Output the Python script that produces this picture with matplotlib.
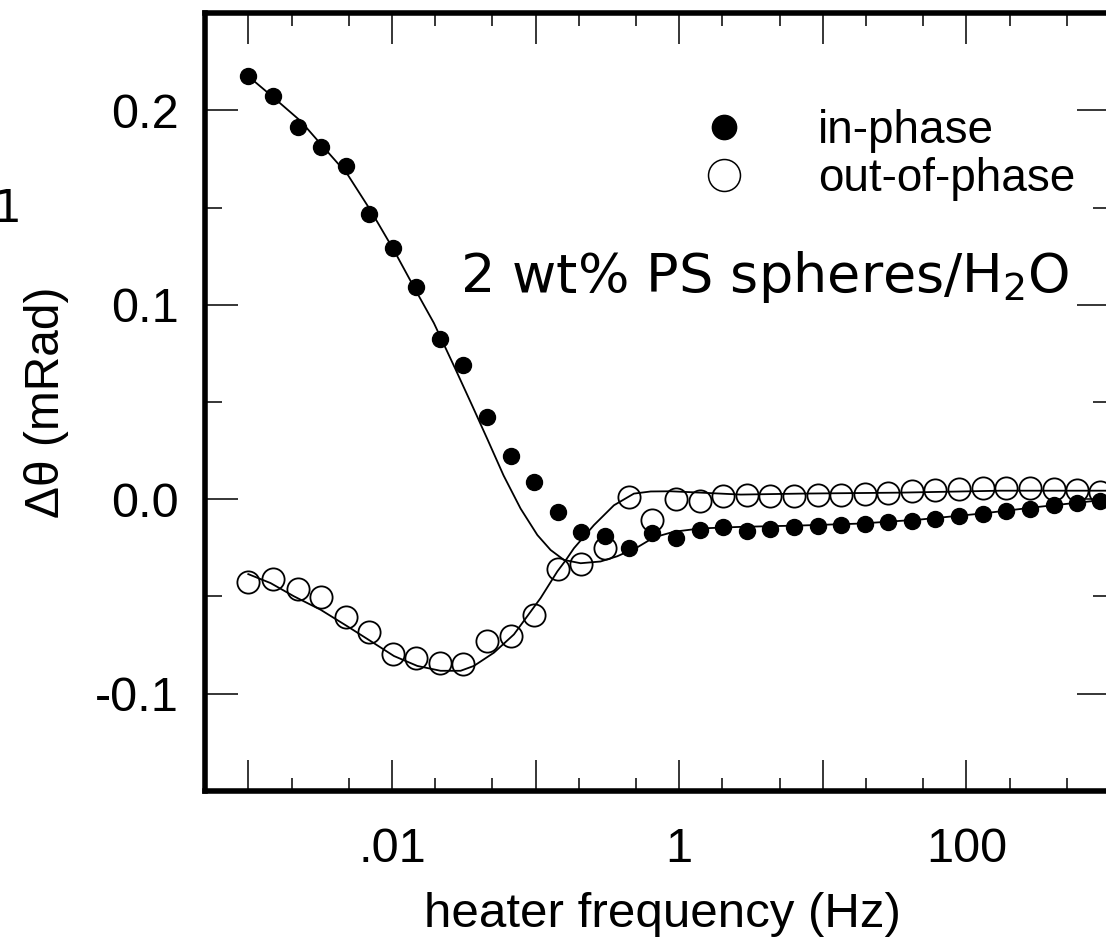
import matplotlib
matplotlib.use("Agg")
import matplotlib.pyplot as plt
from matplotlib.lines import Line2D
from matplotlib.ticker import FixedLocator, FixedFormatter, NullFormatter

# measured points (heater frequency in Hz, delta theta in mRad)
freq = [0.0010, 0.00149, 0.00222, 0.00321, 0.00476, 0.00694, 0.01016, 0.01475,
        0.0215, 0.0314, 0.0459, 0.0671, 0.0975, 0.143, 0.209, 0.304, 0.445,
        0.650, 0.946, 1.39, 2.02, 2.95, 4.29, 6.27, 9.21, 13.3, 19.6, 28.5,
        41.6, 60.4, 88.4, 129.8, 187.6, 275.9, 405.5, 586.4, 847.8]
in_phase = [0.2175, 0.2073, 0.1914, 0.1812, 0.1715, 0.1468, 0.1294, 0.1093,
            0.0826, 0.0688, 0.0421, 0.0221, 0.0091, -0.0065, -0.0167, -0.0188,
            -0.0249, -0.0176, -0.0201, -0.0159, -0.0145, -0.0162, -0.0155,
            -0.0142, -0.0136, -0.0133, -0.0128, -0.0116, -0.0113, -0.0099,
            -0.0087, -0.0074, -0.0062, -0.0048, -0.0031, -0.0017, -0.0011]
out_phase = [-0.0426, -0.0412, -0.0460, -0.0503, -0.0607, -0.0682, -0.0794,
             -0.0815, -0.0840, -0.0845, -0.0729, -0.0701, -0.0593, -0.0360,
             -0.0334, -0.0249, 0.0012, -0.0108, 0.0003, -0.0011, 0.0015, 0.0020,
             0.0017, 0.0017, 0.0020, 0.0024, 0.0029, 0.0034, 0.0040, 0.0045,
             0.0054, 0.0058, 0.0058, 0.0058, 0.0054, 0.0045, 0.0037]

# fitted model curves
fit_in_f = [0.0010, 0.001507, 0.002312, 0.00336, 0.004891, 0.007105, 0.01033,
            0.01503, 0.0196, 0.02778, 0.03631, 0.04616, 0.05993, 0.0787,
            0.103, 0.1274, 0.1577, 0.2061, 0.2839, 0.3712, 0.5117, 0.6681,
            0.9202, 1.412, 2.681, 7.014, 18.35, 48.05, 125.8, 329.0, 1000.0]
fit_in = [0.2175, 0.2064, 0.1945, 0.1808, 0.1672, 0.1485, 0.1280, 0.1059,
          0.0906, 0.0667, 0.0480, 0.0310, 0.0122, -0.0048, -0.0184, -0.0261,
          -0.0312, -0.0329, -0.0320, -0.0293, -0.0247, -0.0196, -0.0167,
          -0.0150, -0.0142, -0.0135, -0.0125, -0.0104, -0.0074, -0.0038, 0.0]
fit_out_f = [0.0010, 0.001429, 0.002079, 0.003187, 0.004891, 0.007105, 0.01033,
             0.01503, 0.02183, 0.03008, 0.03722, 0.05131, 0.07074, 0.1085,
             0.1419, 0.1622, 0.1851, 0.2551, 0.3516, 0.4844, 0.6337, 0.8727,
             1.412, 2.681, 7.014, 34.9, 173.4, 1000.0]
fit_out = [-0.0385, -0.0431, -0.0499, -0.0568, -0.0653, -0.0729, -0.0806,
           -0.0857, -0.0882, -0.0882, -0.0857, -0.0789, -0.0695, -0.0508,
           -0.0371, -0.0314, -0.0252, -0.0133, -0.0031, 0.0029, 0.0040, 0.0041,
           0.0034, 0.0024, 0.0029, 0.0034, 0.0044, 0.0044]

x_major = [1e-3, 1e-2, 1e-1, 1, 10, 100, 1000]
x_labels = ["", ".01", "", "1", "", "100", ""]
x_minor = [2e-3, 5e-3, 2e-2, 5e-2, 0.2, 0.5, 2, 5, 20, 50, 200, 500]
y_major = [-0.1, 0.0, 0.1, 0.2]
y_labels = ["-0.1", "0.0", "0.1", "0.2"]
y_minor = [-0.05, 0.05, 0.15]

helv = "Liberation Sans"

fig = plt.figure(figsize=(11.06, 9.43), dpi=100)
ax = fig.add_axes([0.1854, 0.1612, 0.8182, 0.825])

ax.plot(fit_in_f, fit_in, color="black", lw=1.3)
ax.plot(fit_out_f, fit_out, color="black", lw=1.3)
ax.plot(freq, out_phase, "o", ms=16, mfc="none", mec="black", mew=1.3)
ax.plot(freq, in_phase, "o", ms=11.5, color="black")

ax.set_xscale("log")
ax.set_xlim(5e-4, 1e3)
ax.set_ylim(-0.15, 0.25)

ax.xaxis.set_major_locator(FixedLocator(x_major))
ax.xaxis.set_major_formatter(FixedFormatter(x_labels))
ax.xaxis.set_minor_locator(FixedLocator(x_minor))
ax.xaxis.set_minor_formatter(NullFormatter())
ax.yaxis.set_major_locator(FixedLocator(y_major))
ax.yaxis.set_major_formatter(FixedFormatter(y_labels))
ax.yaxis.set_minor_locator(FixedLocator(y_minor))

for s in ax.spines.values():
    s.set_linewidth(4)
ax.tick_params(which="both", direction="in", top=True, right=True, width=1.1)
ax.tick_params(axis="x", which="major", length=22, pad=26)
ax.tick_params(axis="x", which="minor", length=9.5)
ax.tick_params(axis="y", which="major", length=24, pad=19)
ax.tick_params(axis="y", which="minor", length=12)
for lab in ax.get_xticklabels() + ax.get_yticklabels():
    lab.set_fontfamily(helv)
    lab.set_fontsize(35)

ax.set_xlabel("heater frequency (Hz)", fontfamily=helv, fontsize=35.5)
ax.set_ylabel("\u0394\u03b8 (mRad)", fontfamily=helv, fontsize=34.5)
ax.yaxis.set_label_coords(-0.15, 0.5)
ax.xaxis.set_label_coords(0.505, -0.13)

handles = [Line2D([], [], ls="", marker="o", ms=17.5, color="black"),
           Line2D([], [], ls="", marker="o", ms=23, mfc="none", mec="black", mew=1.1)]
ax.legend(handles, ["in-phase", "out-of-phase"], loc="upper left",
          bbox_to_anchor=(0.5227, 0.876), frameon=False, borderpad=0,
          borderaxespad=0, handlelength=2.0, handletextpad=1.05,
          labelspacing=0.07, prop={"family": helv, "size": 33})

ax.text(0.2818, 0.6414, "2 wt% PS spheres/H$_2$O", transform=ax.transAxes,
        fontfamily="DejaVu Sans", fontsize=39, va="baseline", ha="left")

# stray label from the neighbouring panel
fig.text(0.019, 0.7646, "1", fontfamily="DejaVu Sans", fontsize=31.5,
         ha="right", va="baseline")

fig.savefig("out.png", dpi=100)
